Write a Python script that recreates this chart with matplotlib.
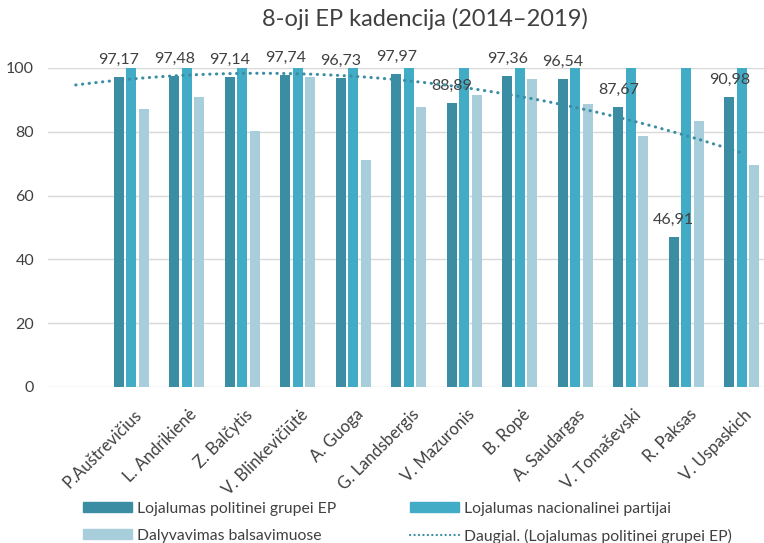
import numpy as np
import matplotlib
matplotlib.use("Agg")
import matplotlib.pyplot as plt
import matplotlib.transforms as mtransforms
from matplotlib.patches import Patch
from matplotlib.lines import Line2D

plt.rcParams['font.family'] = ['Lato', 'DejaVu Sans']

names = ["P.Auštrevičius", "L. Andrikienė", "Z. Balčytis", "V. Blinkevičiūtė",
         "A. Guoga", "G. Landsbergis", "V. Mazuronis", "B. Ropė", "A. Saudargas",
         "V. Tomaševski", "R. Paksas", "V. Uspaskich"]
loyal_group = [97.17, 97.48, 97.14, 97.74, 96.73, 97.97, 88.89, 97.36, 96.54, 87.67, 46.91, 90.98]
loyal_party = [100, 100, 100, 100, 100, 100, 100, 100, 100, 100, 100, 100]
attendance = [87.0, 90.8, 80.1, 97.1, 71.2, 87.9, 91.4, 96.7, 88.7, 78.6, 83.3, 69.6]
labels_txt = ["97,17", "97,48", "97,14", "97,74", "96,73", "97,97", "88,89", "97,36",
              "96,54", "87,67", "46,91", "90,98"]

c_dark = "#3B8DA3"
c_mid = "#42ACC7"
c_light = "#A8CEDC"
txt = "#404040"

W, H = 764, 543
fig = plt.figure(figsize=(W / 100, H / 100), dpi=100)
ax = fig.add_axes([48 / W, (H - 387) / H, (W - 48) / W, 319 / H])

x = np.arange(len(names))
bw = 0.175
off = 0.225
ax.bar(x - off, loyal_group, bw, color=c_dark, zorder=3)
ax.bar(x, loyal_party, bw, color=c_mid, zorder=3)
ax.bar(x + off, attendance, bw, color=c_light, zorder=3)

# polynomial trendline (order 2) of first series, extended one category back
dots = (0, (0.1, 2.1))
coef = np.polyfit(x, loyal_group, 2)
xt = np.linspace(-1, len(names) - 1, 200)
ax.plot(xt, np.polyval(coef, xt), linestyle=dots, color=c_dark,
        lw=2.2, dash_capstyle='round', zorder=4)

for xi, v, s in zip(x, loyal_group, labels_txt):
    ax.annotate(s, (xi - off, v), xytext=(0, 12.5), textcoords='offset points',
                ha='center', va='center', fontsize=11.5, color=txt)

ax.set_xlim(-1.5, -1.5 + (W - 48) / 55.5)
ax.set_ylim(0, 100)
ax.set_yticks(range(0, 101, 20))
ax.yaxis.grid(True, color="#d9d9d9", lw=1, zorder=0)
for sp in ax.spines.values():
    sp.set_visible(False)
ax.tick_params(axis='y', length=0, labelsize=11.5, labelcolor=txt, pad=10)
ax.tick_params(axis='x', length=0, labelsize=12, labelcolor=txt, pad=14)
ax.set_xticks(x)
ax.set_xticklabels(names, rotation=45, ha='right', va='top', rotation_mode='anchor')
shift = mtransforms.ScaledTranslation(2 / 100, 0, fig.dpi_scale_trans)
for lab in ax.get_xticklabels():
    lab.set_transform(lab.get_transform() + shift)

fig.text(425 / W, 1 - 19 / H, "8-oji EP kadencija (2014–2019)", ha='center', va='center',
         fontsize=17, color=txt)

h_dark = Patch(color=c_dark)
h_mid = Patch(color=c_mid)
h_light = Patch(color=c_light)
h_trend = Line2D([], [], linestyle=(0, (0.1, 1.9)), color=c_dark, lw=1.6,
                 dash_capstyle='round')

common = dict(frameon=False, fontsize=11.3, handlelength=3.1, handleheight=0.6,
              labelspacing=0.8, handletextpad=0.35, labelcolor=txt,
              borderaxespad=0, borderpad=0, loc='upper left')
leg1 = fig.legend([h_dark, h_light],
                  ["Lojalumas politinei grupei EP", "Dalyvavimas balsavimuose"],
                  bbox_to_anchor=(83 / W, 1 - 502 / H), **common)
leg2 = fig.legend([h_mid, h_trend],
                  ["Lojalumas nacionalinei partijai", "Daugial. (Lojalumas politinei grupei EP)"],
                  bbox_to_anchor=(410 / W, 1 - 502 / H), **common)

fig.savefig("out.png", dpi=100)
